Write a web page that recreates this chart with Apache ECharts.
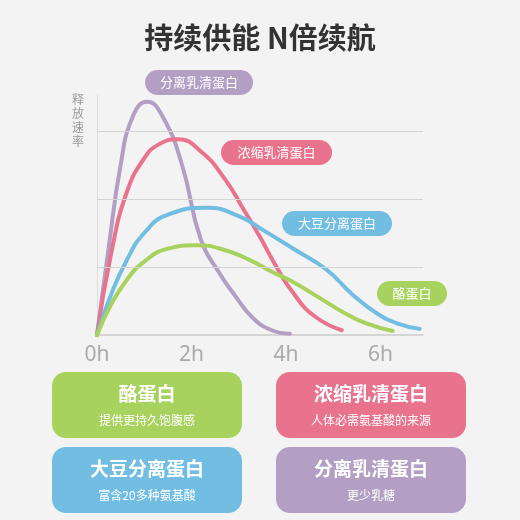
<!DOCTYPE html><html><head><meta charset="utf-8"><script src="https://cdn.jsdelivr.net/npm/echarts@6/dist/echarts.min.js"></script>
<style>body{margin:0;background:#f3f3f3}#c{width:520px;height:520px}</style></head><body><div id="c"></div><script>
const title='持续供能 N倍续航';
const seriesNames=['分离乳清蛋白','浓缩乳清蛋白','大豆分离蛋白','酪蛋白'];
const colors=['#b39ec4','#e9738c','#72bde2','#a8d25e'];
const whey=[[0,0],[0.25,1.3],[0.5,2.5],[0.75,3.2],[1.06,3.43],[1.4,3.2],[1.8,2.5],[2.2,1.4],[2.6,0.9],[2.9,0.6],[3.3,0.25],[3.7,0.07],[4.08,0.02]];
const conc=[[0,0],[0.3,1.2],[0.63,2.1],[1.0,2.6],[1.3,2.8],[1.71,2.88],[2.2,2.7],[2.7,2.3],[3.1,1.85],[3.45,1.44],[3.8,1.0],[4.15,0.62],[4.6,0.28],[5.18,0.07]];
const soy=[[0,0],[0.3,0.6],[0.63,1.1],[1.0,1.5],[1.5,1.77],[2.33,1.87],[3.0,1.75],[3.5,1.55],[4.2,1.25],[4.86,0.96],[5.4,0.6],[5.92,0.32],[6.4,0.16],[6.83,0.09]];
const casein=[[0,0],[0.3,0.45],[0.63,0.81],[1.0,1.08],[1.5,1.27],[2.11,1.32],[2.7,1.25],[3.3,1.08],[3.7,0.93],[4.15,0.78],[4.7,0.55],[5.2,0.34],[5.7,0.17],[6.26,0.06]];
const gridLevels=[1,2,3];
const cards=[['酪蛋白','提供更持久饱腹感'],['浓缩乳清蛋白','人体必需氨基酸的来源'],['大豆分离蛋白','富含20多种氨基酸'],['分离乳清蛋白','更少乳糖']];
const cardColors=[colors[3],colors[1],colors[2],colors[0]];
const ch=echarts.init(document.getElementById('c'));
const data=[whey,conc,soy,casein];
const series=data.map((d,i)=>({type:'line',name:seriesNames[i],data:d,smooth:true,showSymbol:false,z:3,lineStyle:{color:colors[i],width:4,cap:'round'}}));
series.push({type:'line',data:[],markLine:{silent:true,symbol:'none',label:{show:false},lineStyle:{color:'#d4d4d4',type:'solid',width:1},data:gridLevels.map(v=>({yAxis:v}))}});
const pills=[[145,70,108,seriesNames[0],colors[0]],[221,140,111,seriesNames[1],colors[1]],[282,211,110,seriesNames[2],colors[2]],[377,281,70,seriesNames[3],colors[3]]];
const g=[];
pills.forEach(p=>{g.push({type:'rect',shape:{x:p[0],y:p[1],width:p[2],height:25,r:12.5},style:{fill:p[4]}});
g.push({type:'text',x:p[0]+p[2]/2,y:p[1]+12.5,style:{text:p[3],fill:'#fff',fontSize:13,align:'center',verticalAlign:'middle',fontFamily:'Noto Sans CJK SC'}});});
const pos=[[52,372],[276,372],[52,447],[276,447]];
cards.forEach((c,i)=>{const [x,y]=pos[i];g.push({type:'rect',shape:{x:x,y:y,width:190,height:66,r:14},style:{fill:cardColors[i]}});
g.push({type:'text',x:x+95,y:y+22,style:{text:c[0],fill:'#fff',fontSize:19,fontWeight:'bold',align:'center',verticalAlign:'middle',fontFamily:'Noto Sans CJK SC'}});
g.push({type:'text',x:x+95,y:y+48,style:{text:c[1],fill:'#fff',fontSize:12,align:'center',verticalAlign:'middle',fontFamily:'Noto Sans CJK SC'}});});
g.push({type:'text',x:78,y:120,style:{text:'释\n放\n速\n率',fill:'#999',fontSize:12,lineHeight:14,align:'center',verticalAlign:'middle',fontFamily:'Noto Sans CJK SC'}});
ch.setOption({backgroundColor:'#f3f3f3',animation:false,
title:{text:title,left:'center',top:18,textStyle:{fontSize:29,fontWeight:'bold',color:'#333',fontFamily:'Noto Sans CJK SC'}},
grid:{left:97,right:97,top:95,bottom:185},
xAxis:{type:'value',min:0,max:6.9,interval:2,axisLine:{lineStyle:{color:'#ccc',width:1.5}},axisTick:{show:false},splitLine:{show:false},
axisLabel:{color:'#aaa',fontSize:21,margin:10,fontFamily:'Noto Sans',formatter:v=>(v%2===0?v+'h':'')}},
yAxis:{type:'value',min:0,max:3.53,axisLine:{show:true,lineStyle:{color:'#ddd'}},axisTick:{show:false},axisLabel:{show:false},splitLine:{show:false}},
series:series,graphic:g});
</script></body></html>
